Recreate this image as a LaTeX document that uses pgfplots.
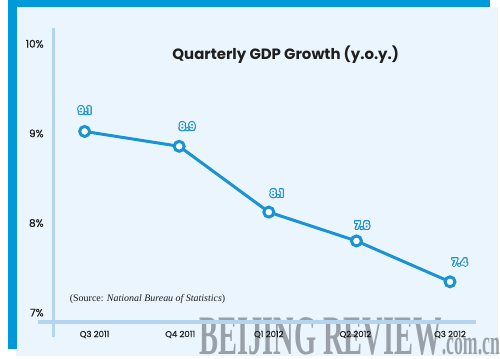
\documentclass[border=0pt]{standalone}
\usepackage{pgfplots}
\pgfplotsset{compat=1.18}
\usepackage{fontspec}
\setmainfont{Poppins}
\newfontfamily\medfont{Poppins}[FakeBold=0.6]
\newfontfamily\serif{Liberation Serif}
\usepackage{contour}
\contourlength{1pt}
\definecolor{barblue}{HTML}{0099DA}
\definecolor{panel}{HTML}{EBF5FD}
\definecolor{lineblue}{HTML}{1A93D4}
\definecolor{axisblue}{HTML}{B3D5EF}
\definecolor{txt}{HTML}{1E1E1E}
\definecolor{wm}{HTML}{8C929A}
\begin{document}
\begin{tikzpicture}[x=1pt,y=1pt]
\fill[white] (0,0) rectangle (500,360);
\fill[panel] (16,2) rectangle (500,353);
\fill[barblue] (8,9) rectangle (17,360);
\fill[barblue] (8,353) rectangle (492,360);
% watermark
\node[anchor=south west, inner sep=0pt, text=wm, opacity=0.85, xscale=0.51] at (200,3)
  {\serif\bfseries\fontsize{56}{56}\selectfont BEIJING REVIEW\fontsize{35}{35}\selectfont.com.cn};
\node[anchor=west, inner sep=0pt, text=txt] at (70,60)
  {\serif\fontsize{10}{12}\selectfont (Source: \textit{National Bureau of Statistics})};
\node[text=txt, inner sep=0pt] at (287,305) {\bfseries\fontsize{15}{18}\selectfont Quarterly GDP Growth (y.o.y.)};
\begin{axis}[
  at={(38pt,22pt)}, anchor=south west,
  scale only axis, width=440pt, height=310pt,
  xmin=38, xmax=478, ymin=6.7333, ymax=10.1778,
  axis line style={draw=none}, tick style={draw=none},
  clip=false,
  xtick={95,181,270,357,452},
  xticklabels={Q3 2011,Q4 2011,Q1 2012,Q2 2012,Q3 2012},
  ytick={7,8,9,10},
  yticklabels={7\%,8\%,9\%,10\%},
  xticklabel style={anchor=center, inner sep=0pt, yshift=2pt, font=\medfont\fontsize{8.5}{10}\selectfont, text=txt},
  yticklabel style={anchor=east, inner sep=0pt, xshift=6pt, font=\medfont\fontsize{10.5}{12}\selectfont, text=txt},
]
\draw[axisblue, line width=3pt] (axis cs:54,6.7333) -- (axis cs:54,10.1778);
\draw[axisblue, line width=4pt] (axis cs:38,6.9) -- (axis cs:478,6.9);
\addplot[color=lineblue, line width=3pt, mark=*, mark size=5pt,
  mark options={fill=white, draw=lineblue, line width=3pt}]
  coordinates {(85,9.022) (180,8.856) (270,8.122) (358,7.8) (452,7.344)};
\node[font=\bfseries\fontsize{10.5}{12}\selectfont] at (axis cs:85,9.244) {\contour{lineblue}{\textcolor{white}{9.1}}};
\node[font=\bfseries\fontsize{10.5}{12}\selectfont] at (axis cs:188,9.067) {\contour{lineblue}{\textcolor{white}{8.9}}};
\node[font=\bfseries\fontsize{10.5}{12}\selectfont] at (axis cs:278,8.322) {\contour{lineblue}{\textcolor{white}{8.1}}};
\node[font=\bfseries\fontsize{10.5}{12}\selectfont] at (axis cs:364,7.967) {\contour{lineblue}{\textcolor{white}{7.6}}};
\node[font=\bfseries\fontsize{10.5}{12}\selectfont] at (axis cs:462,7.556) {\contour{lineblue}{\textcolor{white}{7.4}}};
\end{axis}
\end{tikzpicture}
\end{document}
